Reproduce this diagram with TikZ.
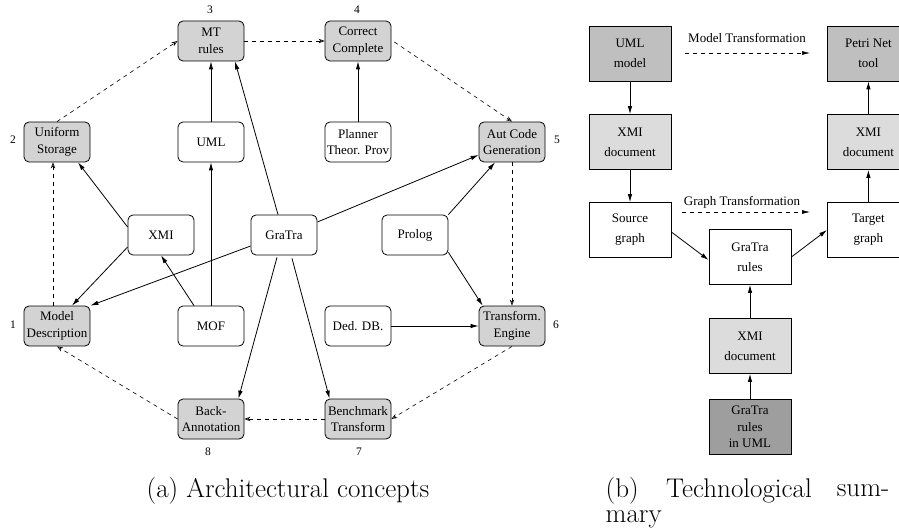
\documentclass[tikz,border=0pt]{standalone}
\usepackage{fontspec}
\newfontfamily\boxfont{Liberation Serif}
\usetikzlibrary{arrows.meta,calc}
\definecolor{conceptgray}{RGB}{211,211,211}
\definecolor{toolgray}{RGB}{191,191,191}
\definecolor{xmigray}{RGB}{220,220,220}
\definecolor{umlgray}{RGB}{158,158,158}
\begin{document}
\begin{tikzpicture}[x=1pt, y=-1pt, line width=.8pt,
	concept/.style={draw, rounded corners=5pt, minimum width=66pt, minimum height=40pt, inner sep=0, align=center, font=\boxfont\fontsize{13}{16.5}\selectfont},
	core/.style={concept, fill=conceptgray},
	techbox/.style={draw, minimum width=82pt, minimum height=55pt, inner sep=0, align=center, font=\boxfont\fontsize{13}{20}\selectfont},
	num/.style={font=\boxfont\fontsize{11.5}{13}\selectfont},
	capt/.style={font=\fontsize{27}{30}\selectfont},
	uses/.style={-{Latex[length=8pt,width=4.5pt]}},
	flow/.style={dashed, dash pattern=on 4pt off 4pt, -{Stealth[open,length=6pt,width=4.5pt]}, line width=.6pt},
	trans/.style={dashed, dash pattern=on 4pt off 4pt, -{Latex[length=8pt,width=4pt]}, line width=.6pt}]
	\useasboundingbox (0,0) rectangle (899,529);

	% (a) architectural concepts
	\node[core] (model) at (57,326) {Model\\Description};
	\node[core] (storage) at (57,142) {Uniform\\Storage};
	\node[core] (mtrules) at (211,41) {MT\\rules};
	\node[core] (correct) at (358,41) {Correct\\Complete};
	\node[core] (autcode) at (512,142) {Aut Code\\Generation};
	\node[core] (engine) at (512,326) {Transform.\\Engine};
	\node[core] (bench) at (358,419) {Benchmark\\Transform};
	\node[core] (back) at (211,419) {Back-\\Annotation};

	\node[concept] (uml) at (211,142) {UML};
	\node[concept] (planner) at (358,142) {Planner\\Theor. Prov};
	\node[concept] (xmi) at (161,235) {XMI};
	\node[concept] (gratra) at (284,235) {GraTra};
	\node[concept] (prolog) at (415,235) {Prolog};
	\node[concept] (mof) at (211,326) {MOF};
	\node[concept] (deddb) at (358,326) {Ded. DB.};

	\node[num] (n1) at (13,325) {1};
	\node[num] (n2) at (13,140) {2};
	\node[num] (n3) at (210,10) {3};
	\node[num] (n4) at (357,10) {4};
	\node[num] (n5) at (557,140) {5};
	\node[num] (n6) at (556,325) {6};
	\node[num] (n7) at (359,452) {7};
	\node[num] (n8) at (208,452) {8};

	\draw[flow] ($(model.north)+(-4,0)$) -- ($(storage.south)+(-4,0)$);
	\draw[flow] (storage.north) -- (mtrules.west);
	\draw[flow] (mtrules) -- (correct);
	\draw[flow] ($(correct.east)+(3,1)$) -- (autcode.north);
	\draw[flow] (autcode) -- (engine);
	\draw[flow] (engine.south) -- (bench.east);
	\draw[flow] (bench) -- (back);
	\draw[flow] (back.west) -- (model.south);

	\draw[uses] (uml) -- (mtrules);
	\draw[uses] (mof) -- (uml);
	\draw[uses] ($(gratra.north)+(-6,0)$) -- ($(mtrules.south)+(24,0)$);
	\draw[uses] (planner) -- (correct);
	\draw[uses] ($(xmi.west)+(0,-8)$) -- ($(storage.south)+(21,0)$);
	\draw[uses] ($(xmi.west)+(0,12)$) -- ($(model.north)+(15,0)$);
	\draw[uses] ($(gratra.west)+(0,11)$) -- (model.north east);
	\draw[uses] ($(mof.north)+(-17,0)$) -- (xmi.south);
	\draw[uses] ($(gratra.east)+(0,-13)$) -- ($(autcode.west)+(0,13)$);
	\draw[uses] (prolog.north east) -- ($(autcode.south)+(-17,0)$);
	\draw[uses] ($(prolog.south east)+(0,-3)$) -- ($(engine.north west)+(4,0)$);
	\draw[uses] (deddb) -- (engine);
	\draw[uses] ($(gratra.south)+(-7,2)$) -- ($(back.north east)+(-6,0)$);
	\draw[uses] ($(gratra.south)+(8,3)$) -- ($(bench.north west)+(5,0)$);

	\node[capt] (capa) at (288,491) {(a)\ Architectural concepts};

	% (b) technological summary
	\node[techbox, fill=toolgray] (umlmodel) at (630,53.5) {UML\\model};
	\node[techbox, fill=toolgray, anchor=west] (petri) at (827,53.5) {Petri Net\\tool};
	\node[techbox, fill=xmigray] (xmiin) at (630,142) {XMI\\document};
	\node[techbox, fill=xmigray, anchor=west] (xmiout) at (827,142) {XMI\\document};
	\node[techbox] (source) at (630,230) {Source\\graph};
	\node[techbox, anchor=west] (target) at (827,230) {Target\\graph};
	\node[techbox] (rules) at (750,257) {GraTra\\rules};
	\node[techbox, fill=xmigray] (xmirules) at (750,346) {XMI\\document};
	\node[techbox, fill=umlgray, font=\boxfont\fontsize{13}{16.5}\selectfont] (umlrules) at (750,427) {GraTra\\rules\\in UML};

	\node[num, font=\boxfont\fontsize{13}{15}\selectfont] (mtlabel) at (747,38) {Model Transformation};
	\node[num, font=\boxfont\fontsize{13}{15}\selectfont] (gtlabel) at (742,202) {Graph Transformation};
	\coordinate (mtfrom) at (685,53);
	\coordinate (mtto) at (810,53);
	\coordinate (gtfrom) at (682,212);
	\coordinate (gtto) at (810,212);
	\draw[trans] (mtfrom) -- (mtto);
	\draw[trans] (gtfrom) -- (gtto);

	\draw[uses] (umlmodel) -- (xmiin);
	\draw[uses] (xmiin) -- (source);
	\draw[uses] ($(source.east)+(0,2)$) -- ($(rules.west)+(0,3)$);
	\draw[uses] (rules.east) -- (target.west);
	\draw[uses] (target) -- (xmiout);
	\draw[uses] (xmiout) -- (petri);
	\draw[uses] (xmirules) -- (rules);
	\draw[uses] (umlrules) -- (xmirules);

	\node[capt, anchor=west] (capb) at (602,491) {(b)};
	\node[capt] (capbtech) at (739,491) {Technological};
	\node[capt, anchor=east] (capbsum) at (893,491) {sum-};
	\node[capt, anchor=west] (capbmary) at (602,519) {mary};
\end{tikzpicture}
\end{document}
